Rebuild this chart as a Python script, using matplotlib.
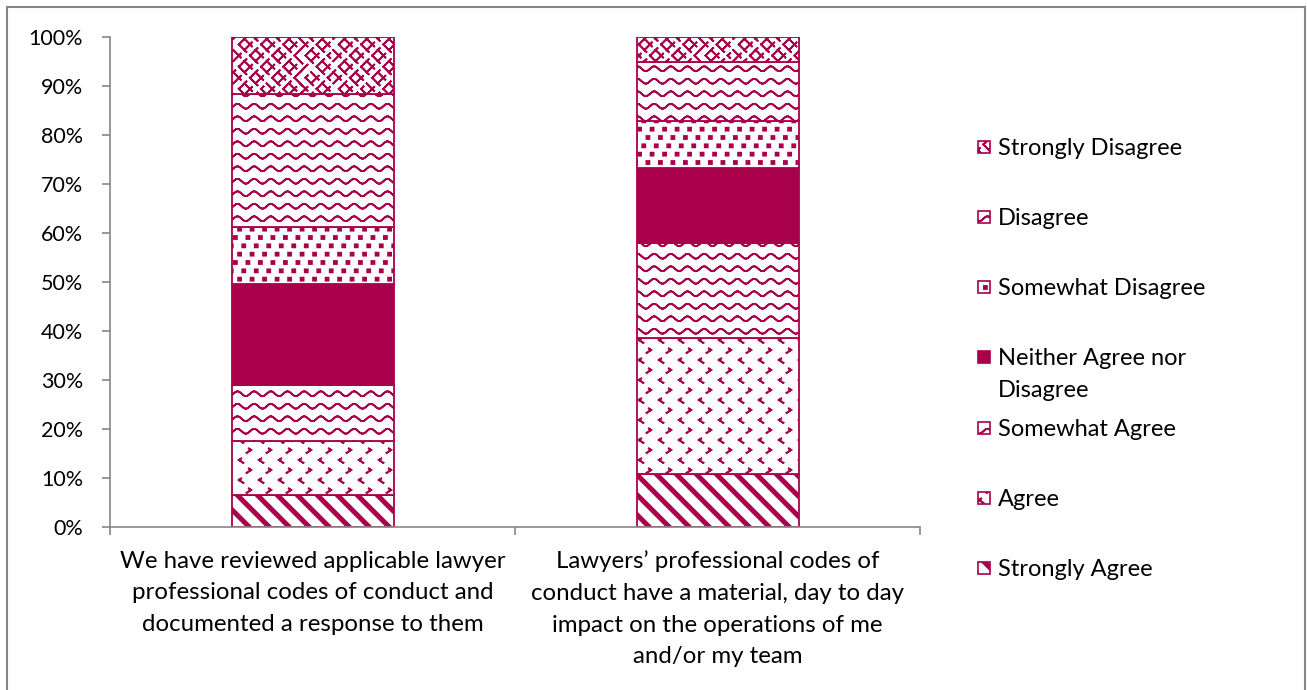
import warnings
import numpy as np
import matplotlib
matplotlib.use('Agg')
import matplotlib.pyplot as plt
import matplotlib.hatch as mhatch
from matplotlib.path import Path
from matplotlib.patches import Rectangle

warnings.filterwarnings('ignore')

# data (percent of respondents)
categories = ["We have reviewed applicable lawyer\nprofessional codes of conduct and\ndocumented a response to them",
              "Lawyers\u2019 professional codes of\nconduct have a material, day to day\nimpact on the operations of me\nand/or my team"]
responses = ['Strongly Agree', 'Agree', 'Somewhat Agree', 'Neither Agree nor\nDisagree',
             'Somewhat Disagree', 'Disagree', 'Strongly Disagree']
strongly_agree = [6.5, 10.8]
agree = [11.1, 27.8]
somewhat_agree = [11.4, 19.4]
neither = [20.6, 15.3]
somewhat_disagree = [11.6, 9.6]
disagree = [27.2, 12.0]
strongly_disagree = [11.6, 5.1]
series = [strongly_agree, agree, somewhat_agree, neither,
          somewhat_disagree, disagree, strongly_disagree]

CRIMSON = '#A9004B'
GRAY = '#868686'


# ---- custom hatch patterns (Excel-like textures) ----
def _wrap(shapes):
    # repeat every shape on the neighbouring tiles so the texture tiles cleanly
    out = []
    for dx in (-1, 0, 1):
        for dy in (-1, 0, 1):
            for kind, pts in shapes:
                out.append((kind, [(x + dx, y + dy) for x, y in pts]))
    return out


def _to_path(shapes):
    verts, codes = [], []
    for kind, pts in shapes:
        if kind == 'line':  # retraced polyline -> zero fill area, stroke only
            v = pts + pts[-2::-1]
            verts += v
            codes += [Path.MOVETO] + [Path.LINETO] * (len(v) - 1)
        else:  # closed polygon
            verts += pts + [pts[0]]
            codes += [Path.MOVETO] + [Path.LINETO] * (len(pts) - 1) + [Path.CLOSEPOLY]
    return np.array(verts, float), np.array(codes, Path.code_type)


def stripes():
    shapes = []
    w = 0.045
    for k in range(-6, 6):
        a = k / 5
        shapes.append(('poly', [(a, 1), (a + w, 1), (a + w + 1, 0), (a + 1, 0)]))
    return shapes


def chevrons():
    shapes = []
    s = 0.011
    for i in range(5):
        for j in range(5):
            x, y = (j + 0.5) / 5, (i + 0.5) / 5
            shapes.append(('line', [(x - s, y + s * 1.3), (x + s, y), (x - s, y - s * 1.3)]))
            x, y = (j + 1.0) / 5, (i + 1.0) / 5
            shapes.append(('line', [(x + s, y + s * 1.3), (x - s, y), (x + s, y - s * 1.3)]))
    return _wrap(shapes)


def waves():
    shapes = []
    xs = np.linspace(-0.05, 1.05, 133)
    for r in range(8):
        y0 = (r + 0.5) / 8
        ys = y0 + 0.024 * np.sin(2 * np.pi * 6 * xs)
        shapes.append(('line', list(zip(xs, ys))))
    return shapes


def squares():
    shapes = []
    h = 0.015
    for i in range(12):
        shift = (i % 3) / 3
        for j in range(8):
            x, y = (j + 0.5 + shift) / 8, (i + 0.5) / 12
            shapes.append(('poly', [(x - h, y - h), (x + h, y - h), (x + h, y + h), (x - h, y + h)]))
    return _wrap(shapes)


def weave():
    shapes = []
    n = 9
    c = 1 / n
    for i in range(n):
        for j in range(n):
            x0, y0 = j * c, i * c
            if (i + j) % 2 == 0:
                shapes.append(('line', [(x0, y0 + 0.5 * c), (x0 + 0.5 * c, y0 + c)]))
                shapes.append(('line', [(x0 + 0.5 * c, y0), (x0 + c, y0 + 0.5 * c)]))
            else:
                shapes.append(('line', [(x0, y0 + 0.5 * c), (x0 + 0.5 * c, y0)]))
                shapes.append(('line', [(x0 + 0.5 * c, y0 + c), (x0 + c, y0 + 0.5 * c)]))
    return _wrap(shapes)


def make_hatch(char, builder):
    verts, codes = _to_path(builder())

    class _H(mhatch.HatchPatternBase):
        def __init__(self, hatch, density):
            self.on = char in hatch
            self.num_vertices = len(verts) if self.on else 0

        def set_vertices_and_codes(self, vertices, codes_out):
            vertices[:] = verts
            codes_out[:] = codes
    return _H


for ch, fn in [('s', stripes), ('c', chevrons), ('w', waves), ('q', squares), ('k', weave)]:
    mhatch._hatch_types.append(make_hatch(ch, fn))

hatches = ['s', 'c', 'w', None, 'q', 'w', 'k']
faces = ['white', 'white', 'white', CRIMSON, 'white', 'white', 'white']

plt.rcParams['font.family'] = ['Lato', 'DejaVu Sans']
plt.rcParams['hatch.linewidth'] = 1.3

W, H = 1307, 690
fig = plt.figure(figsize=(W / 100, H / 100), dpi=100)
ax = fig.add_axes([110 / W, 1 - 527 / H, 810 / W, 490 / H])

x = np.arange(len(categories))
bottom = np.zeros(len(categories))
for vals, hatch, face in zip(series, hatches, faces):
    ax.bar(x, vals, 0.4, bottom=bottom, facecolor=face, edgecolor=CRIMSON,
           hatch=hatch, linewidth=1.3, zorder=2)
    bottom += np.array(vals)

ax.set_xlim(-0.5, 1.5)
ax.set_ylim(0, 100)
ax.set_yticks(np.arange(0, 101, 10))
ax.set_yticklabels([f'{v}%' for v in range(0, 101, 10)])
ax.set_xticks([-0.5, 0.5, 1.5])
ax.set_xticklabels([])
ax.set_xticks(x, minor=True)
ax.set_xticklabels(categories, minor=True, linespacing=1.62)
ax.tick_params(axis='y', direction='out', length=5.8, width=1.2, color=GRAY,
               labelsize=15.5, pad=13.5)
ax.tick_params(axis='x', which='major', direction='out', length=5.8, width=1.2, color=GRAY)
ax.tick_params(axis='x', which='minor', length=0, labelsize=17.3, pad=17)
for side in ('top', 'right'):
    ax.spines[side].set_visible(False)
for side in ('left', 'bottom'):
    ax.spines[side].set_color(GRAY)
    ax.spines[side].set_linewidth(1.2)

# legend (reversed order, Excel style spacing)
leg_y = [147, 217, 287, 357, 428, 498, 568]
for lab, hatch, face, yc in zip(responses[::-1], hatches[::-1], faces[::-1], leg_y):
    fig.add_artist(Rectangle((978 / W, 1 - (yc + 6) / H), 12 / W, 12 / H,
                             transform=fig.transFigure, facecolor=face,
                             edgecolor=CRIMSON, hatch=hatch, linewidth=1.2))
    extra = 32 * lab.count('\n')  # baseline goes with the last line
    fig.text(998 / W, 1 - (yc + 8 + extra) / H, lab, fontsize=17, va='baseline', ha='left',
             linespacing=1.62)

# outer chart border
fig.add_artist(Rectangle((7 / W, -0.05), 1298 / W, 1.05 - 7 / H, transform=fig.transFigure,
                         fill=False, edgecolor=GRAY, linewidth=1.5))

fig.savefig('out.png', dpi=100)
